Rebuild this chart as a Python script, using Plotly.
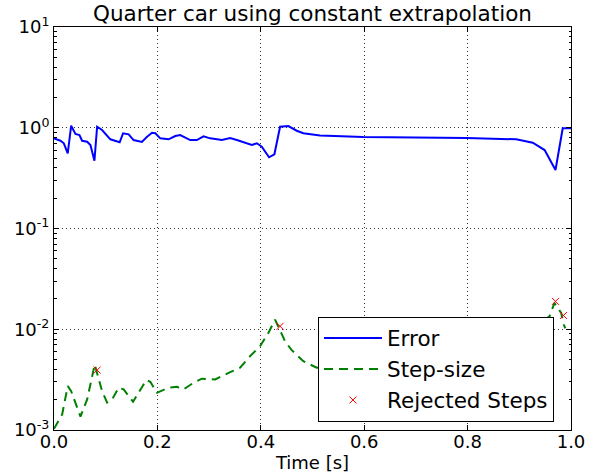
import plotly.graph_objects as go

# ---- data ----
error_t = [0.0, 0.0125, 0.019, 0.0266, 0.0332, 0.0415, 0.0492, 0.0544, 0.0641, 0.0705,
           0.0782, 0.0834, 0.093, 0.1027, 0.109, 0.127, 0.1336, 0.1444, 0.154, 0.170,
           0.180, 0.1896, 0.196, 0.2056, 0.2216, 0.2346, 0.2442, 0.2635, 0.2764, 0.2892,
           0.3021, 0.3247, 0.3407, 0.3537, 0.3826, 0.3923, 0.4019, 0.416, 0.4263, 0.4373,
           0.4533, 0.4695, 0.4822, 0.5145, 0.598, 0.7977, 0.894, 0.926, 0.949, 0.970,
           0.984, 1.0]
error_v = [0.785, 0.743, 0.701, 0.558, 1.047, 0.867, 0.847, 0.743, 0.726, 0.674,
           0.471, 1.023, 0.949, 0.828, 0.768, 0.717, 0.881, 0.861, 0.755, 0.722,
           0.815, 0.892, 0.881, 0.785, 0.768, 0.828, 0.847, 0.755, 0.755, 0.822,
           0.785, 0.755, 0.791, 0.755, 0.674, 0.701, 0.648, 0.509, 0.545, 1.023,
           1.04, 0.934, 0.881, 0.838, 0.809, 0.791, 0.768, 0.710, 0.601, 0.381,
           0.986, 0.986]

step_t = [0.0, 0.0158, 0.0266, 0.0332, 0.0512, 0.0641, 0.0788, 0.093, 0.1027, 0.1124,
          0.125, 0.1347, 0.1529, 0.1637, 0.1786, 0.1863, 0.1992, 0.2216, 0.2378, 0.2506,
          0.2699, 0.2861, 0.3118, 0.3407, 0.36, 0.3793, 0.3986, 0.4147, 0.4276, 0.4469,
          0.4598, 0.4822, 0.5081, 0.55, 0.65, 0.75, 0.85, 0.92, 0.9585, 0.968,
          0.981, 0.986, 0.989]
step_v = [0.00103, 0.00143, 0.00273, 0.00243, 0.00136, 0.00201, 0.00447, 0.00243, 0.00187, 0.00201,
          0.00263, 0.00253, 0.00191, 0.00234, 0.00313, 0.00301, 0.00234, 0.00263, 0.00269, 0.00253,
          0.00294, 0.00323, 0.00318, 0.00375, 0.00415, 0.00541, 0.00679, 0.0092, 0.01247, 0.0076,
          0.0062, 0.00482, 0.00415, 0.0042, 0.0055, 0.007, 0.0085, 0.0100, 0.01345, 0.01824,
          0.01452, 0.01114, 0.0102]

rejected_t = [0.0834, 0.4373, 0.970, 0.9855]
rejected_v = [0.00393, 0.0107, 0.0189, 0.0137]

x_ticks = [0.0, 0.2, 0.4, 0.6, 0.8, 1.0]
x_ticklabels = ["0.0", "0.2", "0.4", "0.6", "0.8", "1.0"]
y_ticks = [1e-3, 1e-2, 1e-1, 1e0, 1e1]
y_ticklabels = ["10<sup>-3</sup>", "10<sup>-2</sup>", "10<sup>-1</sup>", "10<sup>0</sup>", "10<sup>1</sup>"]

# minor tick positions on the log axis (2..9 within each decade)
y_minor = [m * d for d in (1e-3, 1e-2, 1e-1, 1e0) for m in range(2, 10)]

FONT = "DejaVu Sans"

fig = go.Figure()
fig.add_trace(go.Scatter(x=error_t, y=error_v, mode="lines", name="Error",
                         line=dict(color="#0000ff", width=2)))
fig.add_trace(go.Scatter(x=step_t, y=step_v, mode="lines", name="Step-size",
                         line=dict(color="#008000", width=2, dash="9px,6px")))
fig.add_trace(go.Scatter(x=rejected_t, y=rejected_v, mode="markers", name="Rejected Steps",
                         marker=dict(symbol="x-thin", size=7, color="#ff0000",
                                     line=dict(color="#ff0000", width=1))))

fig.update_layout(
    width=589, height=475,
    margin=dict(l=53.5, r=17.5, t=27, b=44.5, autoexpand=False),
    paper_bgcolor="white", plot_bgcolor="white",
    font=dict(family=FONT, size=18, color="black"),
    title=dict(text="Quarter car using constant extrapolation",
               font=dict(family=FONT, size=21.5, color="black"),
               x=0.5, xanchor="center", xref="paper",
               y=1 - 13 / 475, yref="container", yanchor="middle"),
    showlegend=True,
    legend=dict(x=0.5106, y=0.2814, xanchor="left", yanchor="top",
                bgcolor="white", bordercolor="black", borderwidth=1,
                font=dict(family=FONT, size=21.5, color="black"),
                itemwidth=58, tracegroupgap=0),
)

fig.update_xaxes(
    range=[0, 1], tickvals=x_ticks, ticktext=x_ticklabels, automargin=False,
    showline=True, linecolor="black", linewidth=1, mirror="allticks",
    ticks="inside", ticklen=5, tickcolor="black", ticklabelstandoff=-5,
    showgrid=True, gridcolor="#333333", gridwidth=1, griddash="1px,3px",
    zeroline=False,
    tickfont=dict(family=FONT, size=18, color="black"),
    title=dict(text="Time [s]", font=dict(family=FONT, size=18, color="black"), standoff=0),
)
fig.update_yaxes(
    type="log", range=[-3, 1], tickvals=y_ticks, ticktext=y_ticklabels, automargin=False,
    showline=True, linecolor="black", linewidth=1, mirror="allticks",
    ticks="inside", ticklen=5, tickcolor="black",
    minor=dict(tickmode="array", tickvals=y_minor, ticks="inside", ticklen=2.5,
               tickcolor="black", showgrid=False),
    showgrid=True, gridcolor="#333333", gridwidth=1, griddash="1px,3px",
    zeroline=False,
    tickfont=dict(family=FONT, size=18, color="black"),
)

fig.write_html("out.html")
